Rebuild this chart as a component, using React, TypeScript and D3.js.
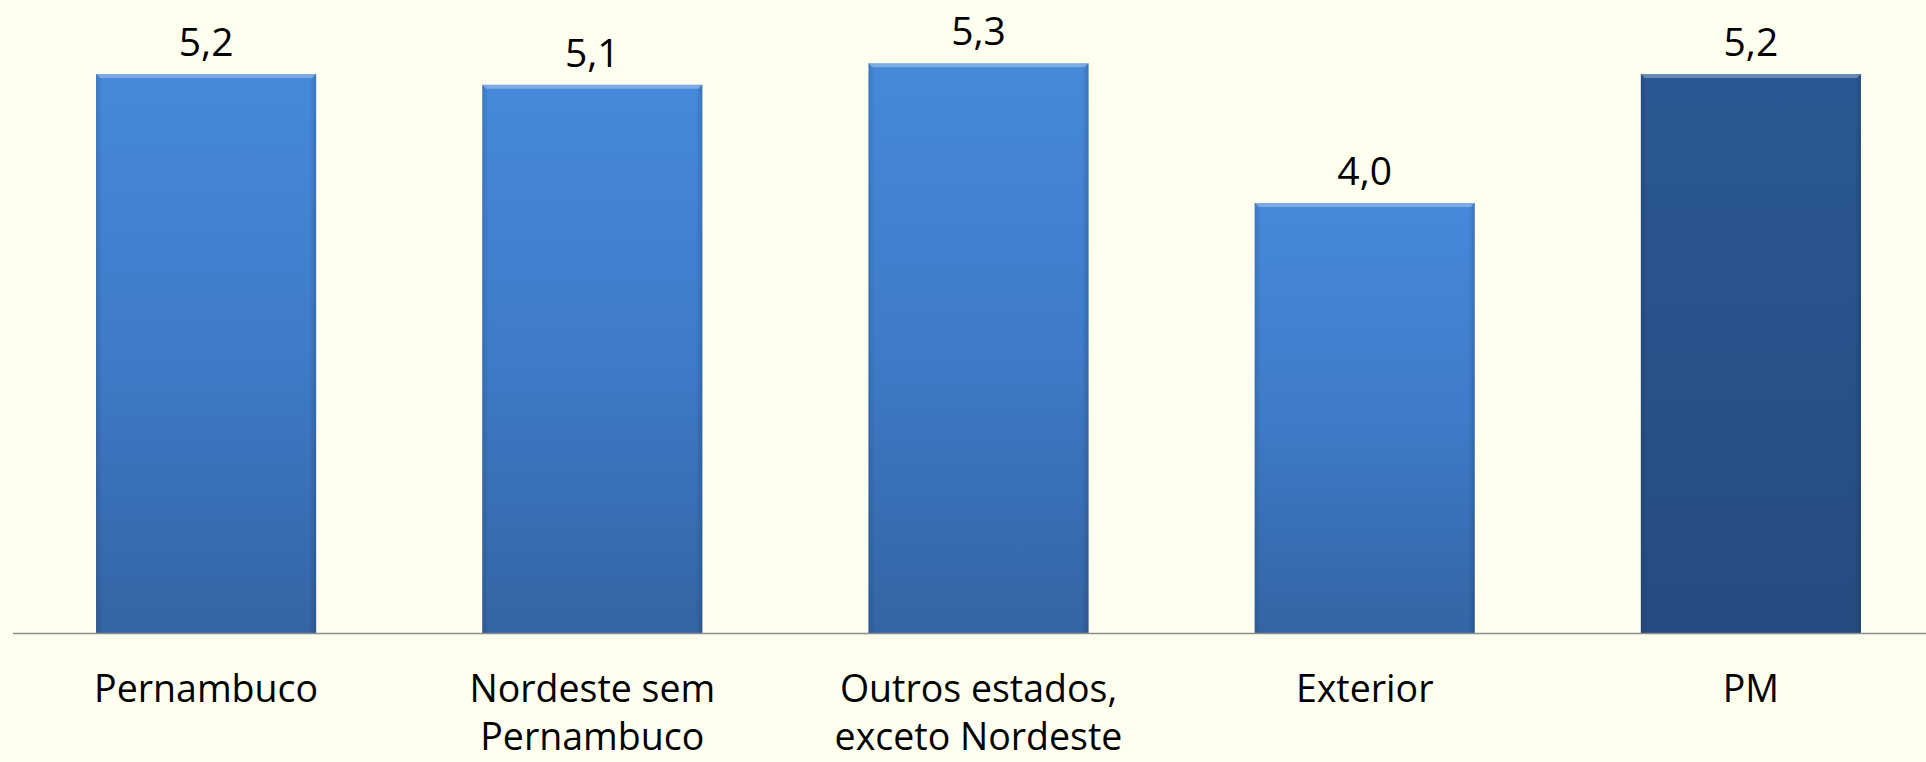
import React from "react";
import * as d3 from "d3";

const categories: string[][] = [
  ["Pernambuco"],
  ["Nordeste sem", "Pernambuco"],
  ["Outros estados,", "exceto Nordeste"],
  ["Exterior"],
  ["PM"],
];
const values: number[] = [5.2, 5.1, 5.3, 4.0, 5.2];
const valueLabels: string[] = ["5,2", "5,1", "5,3", "4,0", "5,2"];
const highlight: boolean[] = [false, false, false, false, true];

const W = 1926;
const H = 762;
const FONT = "'Open Sans', 'Noto Sans', sans-serif";

export default function App() {
  const ids = categories.map((_, i) => String(i));
  const x = d3
    .scaleBand<string>()
    .domain(ids)
    .range([13, 1944])
    .paddingInner(0.43)
    .paddingOuter(0.215);
  const y = d3.scaleLinear().domain([0, 6]).range([633, 633 - 6 * 107.5]);
  const bw = x.bandwidth();

  return (
    <svg
      width={W}
      height={H}
      style={{ position: "absolute", left: 0, top: 0, display: "block" }}
    >
      <defs>
        <linearGradient id="gBlue" x1="0" y1="0" x2="0" y2="1">
          <stop offset="0" stopColor="#4689da" />
          <stop offset="0.5" stopColor="#3e7bc8" />
          <stop offset="1" stopColor="#3464a4" />
        </linearGradient>
        <linearGradient id="gDark" x1="0" y1="0" x2="0" y2="1">
          <stop offset="0" stopColor="#2b5894" />
          <stop offset="1" stopColor="#254c80" />
        </linearGradient>
        <linearGradient id="gSide" x1="0" y1="0" x2="1" y2="0">
          <stop offset="0" stopColor="#000" stopOpacity="0.12" />
          <stop offset="0.03" stopColor="#000" stopOpacity="0" />
          <stop offset="0.97" stopColor="#000" stopOpacity="0" />
          <stop offset="1" stopColor="#000" stopOpacity="0.15" />
        </linearGradient>
      </defs>
      <rect x={0} y={0} width={W} height={H} fill="#fffff0" />
      {values.map((v, i) => {
        const bx = x(String(i))!;
        const top = y(v);
        const h = y(0) - top;
        return (
          <g key={i}>
            <rect
              x={bx}
              y={top}
              width={bw}
              height={h}
              fill={highlight[i] ? "url(#gDark)" : "url(#gBlue)"}
            />
            <rect x={bx} y={top} width={bw} height={h} fill="url(#gSide)" />
            <polygon
              points={`${bx},${top} ${bx + bw},${top} ${bx + bw - 4},${top + 4} ${bx + 4},${top + 4}`}
              fill="#ffffff"
              fillOpacity={0.3}
            />
            <text
              x={bx + bw / 2}
              y={top - 18}
              textAnchor="middle"
              fontFamily={FONT}
              fontSize={39}
              fill="#000"
            >
              {valueLabels[i]}
            </text>
            {categories[i].map((line, j) => (
              <text
                key={j}
                x={bx + bw / 2}
                y={702 + j * 48}
                textAnchor="middle"
                fontFamily={FONT}
                fontSize={37.5}
                fill="#000"
              >
                {line}
              </text>
            ))}
          </g>
        );
      })}
      <line
        x1={13}
        x2={W}
        y1={y(0) + 0.5}
        y2={y(0) + 0.5}
        stroke="#8c8c8c"
        strokeWidth={1.5}
      />
    </svg>
  );
}
